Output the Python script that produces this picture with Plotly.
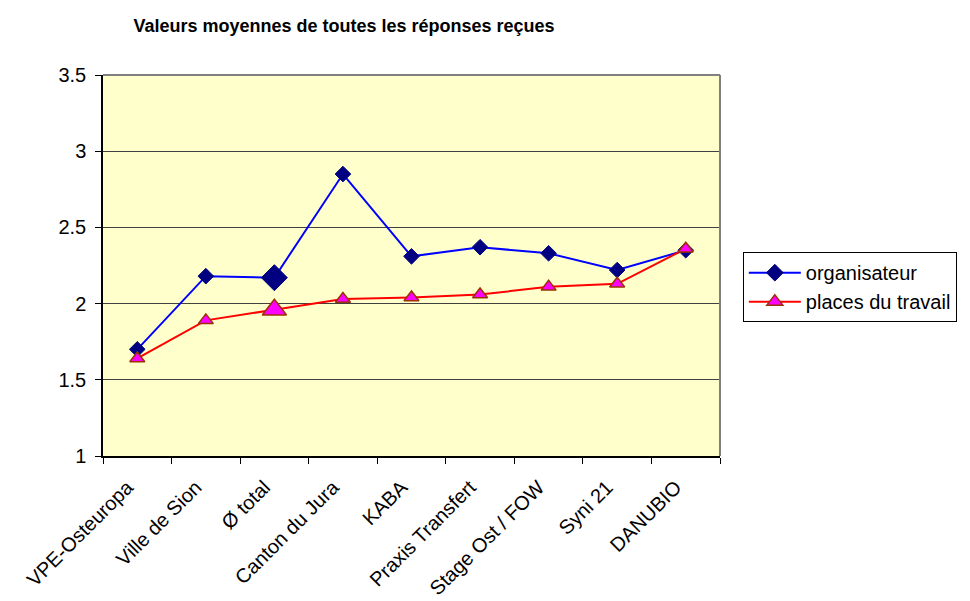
import plotly.graph_objects as go

# catégories et valeurs moyennes
categories = ["VPE-Osteuropa", "Ville de Sion", "Ø total", "Canton du Jura", "KABA",
              "Praxis Transfert", "Stage Ost / FOW", "Syni 21", "DANUBIO"]
organisateur = [1.70, 2.18, 2.17, 2.85, 2.31, 2.37, 2.33, 2.22, 2.35]
places_travail = [1.64, 1.89, 1.96, 2.03, 2.04, 2.06, 2.11, 2.13, 2.36]

# le point "Ø total" est mis en évidence par un marqueur plus grand
diamond_sizes = [12 if c != "Ø total" else 20 for c in categories]
triangle_sizes = [13 if c != "Ø total" else 21 for c in categories]

font_family = "Liberation Sans, Arial, sans-serif"

fig = go.Figure()

fig.add_trace(go.Scatter(
    x=categories, y=organisateur, mode="lines+markers", name="organisateur",
    line=dict(color="#0000FF", width=2),
    marker=dict(symbol="diamond", size=diamond_sizes, color="#000080",
                line=dict(color="#000080", width=1), opacity=1),
))

fig.add_trace(go.Scatter(
    x=categories, y=places_travail, mode="lines+markers", name="places du travail",
    line=dict(color="#FF0000", width=2),
    marker=dict(symbol="triangle-up", size=triangle_sizes, color="#FF00FF",
                line=dict(color="#993300", width=1.5), opacity=1),
))

fig.update_layout(
    width=970, height=601,
    margin=dict(l=103, r=250, t=75, b=145),
    paper_bgcolor="white",
    plot_bgcolor="#FFFFCC",
    font=dict(family=font_family, size=20, color="black"),
    title=dict(text="<b>Valeurs moyennes de toutes les réponses reçues</b>",
               x=(344 - 103) / 617, xref="paper", xanchor="center",
               y=1 - 26 / 601, yanchor="middle",
               font=dict(family=font_family, size=18, color="black")),
    showlegend=True,
    legend=dict(x=1.037, y=0.535, xanchor="left", yanchor="top",
                bgcolor="white", bordercolor="black", borderwidth=1,
                font=dict(family=font_family, size=20, color="black"),
                itemwidth=52, tracegroupgap=0),
)

fig.update_xaxes(
    type="category", range=[-0.5, 8.5], automargin=False,
    showgrid=False, showline=True, linecolor="black", linewidth=1.5,
    ticks="outside", tickson="boundaries", ticklen=6, tickcolor="black",
    tickangle=-45, tickfont=dict(family=font_family, size=20),
    ticklabelstandoff=10, ticklabelshift=-10,
)

fig.update_yaxes(
    range=[1, 3.5], dtick=0.5, tick0=1, automargin=False,
    showgrid=True, gridcolor="#404040", gridwidth=1,
    showline=True, linecolor="black", linewidth=1.5,
    ticks="outside", ticklen=6, tickcolor="black",
    tickfont=dict(family=font_family, size=20),
    ticklabelstandoff=5, zeroline=False,
)

# bordure grise en haut et à droite de la zone de tracé
fig.add_shape(type="line", xref="paper", yref="paper", x0=0, x1=1, y0=1, y1=1,
              line=dict(color="#808080", width=2))
fig.add_shape(type="line", xref="paper", yref="paper", x0=1, x1=1, y0=0, y1=1,
              line=dict(color="#808080", width=2))

# la page par défaut ajoute 8 px de marge autour du graphique
fig.write_html("out.html", config={"displayModeBar": False},
               post_script="document.body.style.margin='0px';")
